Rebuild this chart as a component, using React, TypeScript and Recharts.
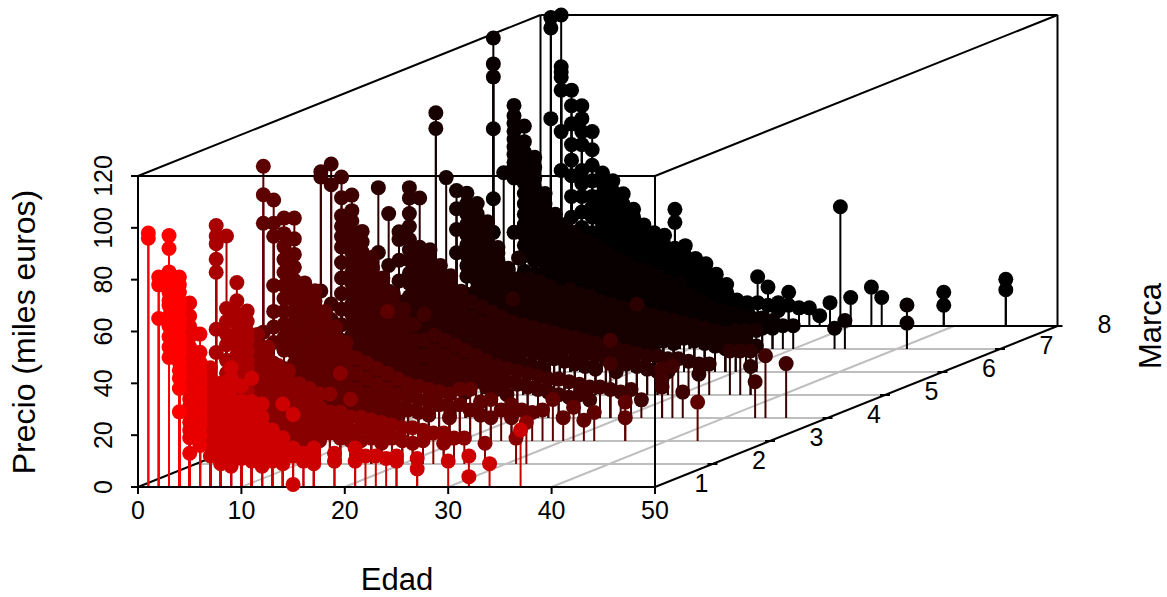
import { ScatterChart, Scatter, XAxis, YAxis, ReferenceLine, ErrorBar } from "recharts";

type Row = [number, number[]][];

// each row: [edad, precios...], one list per marca
const marca0: Row = [
  [1, [98, 96]],
  [2, [81, 78, 65]],
  [3, [97, 92, 83, 78, 75, 72, 70, 66, 62, 58, 54, 50]],
  [4, [81, 78, 75, 72, 69, 65, 62, 58, 55, 52, 48, 45, 42, 38, 29]],
  [5, [71, 66, 62, 58, 54, 50, 46, 43, 40, 37, 34, 31, 28, 25, 22, 19, 13]],
  [6, [59, 52, 48, 45, 42, 40, 37, 34, 31, 28, 26, 24, 20, 16]],
  [7, [46, 42, 38, 35, 32, 29, 26, 23, 20, 16, 12]],
  [8, [40, 36, 33, 30, 27, 24, 21, 18, 15, 12, 9]],
  [9, [46, 42, 38, 34, 30, 27, 24, 21, 18, 15, 12, 8]],
  [10, [39, 33, 29, 26, 23, 20, 17, 14, 11]],
  [11, [42, 33, 28, 25, 22, 19, 16, 13, 10]],
  [12, [32, 27, 24, 21, 18, 15, 12, 8]],
  [13, [22, 19, 16, 13, 10]],
  [14, [32, 19, 15, 12, 9]],
  [15, [28, 15, 12, 1]],
  [16, [13, 10]],
  [17, [15, 12, 9]],
  [19, [13, 10]],
  [21, [15, 10]],
  [22, [12]],
  [23, [12]],
  [24, [11]],
  [25, [12, 10]],
  [27, [11, 7]],
  [30, [10]],
  [32, [12, 4]],
  [34, [9]],
  [37, [22]],
];

const marca1: Row = [
  [2, [92, 88, 85, 79, 74, 52, 43]],
  [3, [88, 60, 55, 50, 46, 40, 35, 30, 25, 20]],
  [4, [70, 63, 58, 54, 50, 46, 42, 38, 34, 30, 26, 22, 18, 14]],
  [5, [59, 55, 51, 48, 44, 40, 37, 34, 31, 28, 24, 20, 16, 12]],
  [6, [50, 46, 42, 39, 36, 33, 30, 27, 24, 21, 18, 14, 10]],
  [7, [45, 41, 37, 34, 31, 28, 25, 22, 19, 16, 13, 9]],
  [8, [38, 35, 32, 29, 26, 23, 20, 17, 14, 11, 8]],
  [9, [36, 32, 29, 26, 23, 20, 17, 14, 10, 7]],
  [10, [31, 26, 22, 18, 14, 9]],
  [11, [29, 24, 20, 16, 12, 8]],
  [12, [27, 22, 18, 14, 9]],
  [13, [27, 20, 16, 12]],
  [14, [35, 20, 15, 10]],
  [15, [25, 18, 13, 9]],
  [16, [18, 14, 9]],
  [17, [17, 13, 10]],
  [18, [16, 12, 8]],
  [19, [15, 10]],
  [20, [14, 9]],
  [21, [14, 8]],
  [22, [13, 9]],
  [23, [12]],
  [24, [12, 8]],
  [25, [10]],
  [26, [10]],
  [28, [8]],
  [31, [10]],
  [32, [16]],
];

const marca2: Row = [
  [1, [106, 95, 84, 42, 36, 30, 20, 12]],
  [2, [93, 84, 79, 60, 50, 44, 38, 30, 24, 16, 10]],
  [3, [86, 80, 75, 70, 65, 60, 55, 50, 45, 40, 35, 28, 22, 15, 9]],
  [4, [86, 78, 72, 67, 62, 58, 54, 50, 46, 42, 38, 34, 30, 26, 22, 17, 12, 7]],
  [5, [61, 57, 54, 50, 47, 44, 41, 38, 35, 32, 29, 26, 22, 18, 13, 8]],
  [6, [58, 54, 50, 47, 44, 41, 38, 35, 32, 29, 26, 23, 20, 16, 11, 7]],
  [7, [50, 46, 43, 40, 37, 34, 31, 28, 25, 22, 19, 15, 10, 6]],
  [8, [44, 40, 36, 32, 28, 25, 22, 19, 16, 12, 8]],
  [9, [38, 34, 30, 27, 24, 21, 18, 14, 9]],
  [10, [32, 26, 20, 15, 10]],
  [11, [30, 24, 18, 13, 8]],
  [12, [28, 22, 17, 12]],
  [13, [50, 26, 20, 15, 10]],
  [14, [24, 18, 13, 9]],
  [15, [22, 17, 12]],
  [16, [21, 16, 11]],
  [17, [20, 15, 10]],
  [18, [19, 14]],
  [19, [18, 13, 9]],
  [20, [20, 14]],
  [21, [20, 12]],
  [22, [15, 10]],
  [23, [16, 9]],
  [24, [12]],
  [25, [14, 9]],
  [26, [12]],
  [27, [11]],
  [28, [12]],
  [29, [16]],
  [30, [9]],
  [31, [13]],
  [32, [8]],
  [33, [11]],
  [36, [15, 9]],
  [43, [15]],
];

const marca3: Row = [
  [1, [95, 93, 49, 36, 25, 14]],
  [2, [98, 90, 44, 38, 30, 24, 16]],
  [3, [93, 85, 78, 74, 70, 66, 60, 54, 48, 42, 36, 30, 24, 18, 12]],
  [4, [86, 80, 76, 72, 68, 64, 60, 56, 52, 48, 44, 40, 36, 32, 28, 23, 18, 13, 8]],
  [5, [72, 68, 64, 60, 57, 54, 51, 48, 45, 42, 39, 36, 33, 30, 26, 22, 17, 12]],
  [6, [62, 58, 55, 52, 49, 46, 43, 40, 37, 34, 31, 28, 25, 22, 18, 13, 8]],
  [7, [54, 50, 46, 42, 38, 34, 31, 28, 25, 22, 18, 14, 9]],
  [8, [48, 44, 40, 36, 32, 29, 26, 23, 20, 17, 12, 8]],
  [9, [42, 38, 34, 30, 27, 24, 21, 18, 15, 11]],
  [10, [36, 30, 25, 20, 15, 10]],
  [11, [40, 30, 24, 18, 13]],
  [12, [32, 26, 21, 16, 11]],
  [13, [30, 24, 19, 14]],
  [14, [28, 22, 17, 12]],
  [15, [26, 20, 15, 10]],
  [16, [24, 19, 14]],
  [17, [22, 17, 12]],
  [18, [20, 15, 11]],
  [19, [19, 14, 9]],
  [20, [18, 13]],
  [21, [17, 12]],
  [22, [16, 11]],
  [23, [15, 10]],
  [24, [15, 9]],
  [25, [14, 8]],
  [26, [13, 9]],
  [27, [12, 7]],
  [28, [12]],
  [29, [30, 21, 11]],
  [30, [10]],
  [31, [11]],
  [32, [7]],
  [34, [19, 15, 12]],
  [35, [20]],
  [36, [10]],
  [43, [14]],
  [44, [24]],
  [46, [21]],
];

const marca4: Row = [
  [1, [80, 55, 42, 30, 18]],
  [2, [70, 50, 40, 24, 14]],
  [3, [63, 60, 52, 44, 36, 28, 20, 12]],
  [4, [80, 76, 70, 65, 60, 56, 52, 47, 43, 38, 34, 30, 25, 19, 13, 8]],
  [5, [76, 57, 54, 50, 47, 44, 41, 38, 35, 32, 29, 26, 22, 17, 12, 7]],
  [6, [56, 52, 49, 46, 43, 40, 37, 34, 31, 28, 25, 22, 17, 12, 7]],
  [7, [50, 46, 42, 38, 35, 32, 29, 26, 23, 20, 15, 10]],
  [8, [46, 42, 38, 34, 31, 28, 25, 22, 19, 14, 9]],
  [9, [40, 36, 32, 28, 25, 22, 18, 13, 8]],
  [10, [36, 30, 25, 20, 14, 9]],
  [11, [34, 28, 23, 18, 12]],
  [12, [32, 27, 22, 17, 11]],
  [13, [30, 25, 20, 15, 10]],
  [14, [37, 28, 23, 18, 13]],
  [15, [27, 22, 17, 12]],
  [16, [26, 21, 16, 11]],
  [17, [25, 20, 15, 10]],
  [18, [24, 19, 14]],
  [19, [23, 18, 13]],
  [20, [22, 17, 12]],
  [21, [21, 16, 11]],
  [22, [20, 15, 10]],
  [23, [19, 14]],
  [24, [18, 13, 9]],
  [25, [17, 12]],
  [26, [35, 16, 11]],
  [27, [15, 10]],
  [28, [15, 9]],
  [29, [14, 9]],
  [30, [14]],
  [31, [13]],
  [32, [12, 8]],
  [33, [12]],
  [35, [17]],
  [36, [17]],
  [37, [17, 11]],
];

const marca5: Row = [
  [1, [100, 94, 38]],
  [2, [75, 20]],
  [3, [70, 63, 55, 46, 14]],
  [4, [69, 65, 61, 57, 53, 49, 45, 41, 37, 30, 25, 20, 15, 10]],
  [5, [65, 61, 57, 53, 50, 47, 44, 41, 38, 35, 32, 28, 24, 20, 16, 12, 8]],
  [6, [58, 55, 52, 49, 46, 43, 40, 37, 34, 31, 28, 25, 21, 17, 13, 9]],
  [7, [48, 46, 43, 40, 37, 34, 31, 28, 25, 22, 18, 14, 10, 6]],
  [8, [40, 39, 36, 33, 30, 27, 24, 21, 17, 13, 9]],
  [9, [44, 36, 32, 29, 26, 23, 20, 16, 12, 8]],
  [10, [36, 32, 29, 26, 23, 20, 17, 13, 9]],
  [11, [35, 32, 29, 26, 23, 20, 17, 13, 8]],
  [12, [33, 30, 27, 24, 21, 18, 15, 11, 7]],
  [13, [31, 28, 25, 22, 19, 16, 12, 8]],
  [14, [32, 29, 26, 23, 20, 17, 14, 10]],
  [15, [30, 27, 24, 21, 18, 15, 11, 7]],
  [16, [29, 26, 23, 20, 17, 14, 10]],
  [17, [27, 24, 21, 18, 15, 12, 8]],
  [18, [26, 23, 20, 17, 14, 10]],
  [19, [25, 22, 19, 16, 13, 9]],
  [20, [24, 21, 18, 15, 12, 8]],
  [21, [23, 20, 17, 14, 10]],
  [22, [22, 19, 16, 13, 9]],
  [23, [21, 18, 15, 12]],
  [24, [20, 17, 14, 11]],
  [25, [19, 16, 13]],
  [26, [18, 15, 12]],
  [27, [17, 14, 11]],
  [28, [16, 13, 10]],
  [29, [15, 12, 9]],
  [30, [16, 12]],
  [31, [16, 12]],
  [32, [16, 10]],
];

const marca6: Row = [
  [1, [120, 110, 105, 85, 58, 45, 25, 12]],
  [2, [68, 30, 22, 16, 10, 5]],
  [3, [94, 90, 87, 84, 81, 78, 75, 72, 70, 66, 45, 26, 18, 11, 5]],
  [4, [86, 80, 76, 72, 68, 64, 60, 56, 52, 48, 44, 40, 36, 30, 24, 18, 12, 6]],
  [5, [74, 70, 66, 62, 58, 54, 50, 46, 43, 40, 37, 34, 29, 24, 19, 14, 8]],
  [6, [60, 56, 52, 48, 45, 42, 39, 36, 33, 30, 27, 23, 18, 13, 8, 4]],
  [7, [52, 49, 46, 43, 40, 37, 34, 31, 28, 25, 21, 17, 12, 7]],
  [8, [48, 45, 42, 39, 36, 33, 30, 27, 24, 20, 16, 11, 6]],
  [9, [45, 42, 39, 36, 33, 30, 27, 24, 21, 17, 12, 7]],
  [10, [42, 39, 36, 33, 30, 27, 24, 21, 18, 14, 9, 5]],
  [11, [40, 37, 34, 31, 28, 25, 22, 19, 15, 10, 6]],
  [12, [37, 34, 31, 28, 25, 22, 19, 16, 12, 8]],
  [13, [35, 32, 29, 26, 23, 20, 17, 13, 9, 5]],
  [14, [33, 30, 27, 24, 21, 18, 15, 11, 7]],
  [15, [31, 28, 25, 22, 19, 16, 13, 9, 5]],
  [16, [30, 27, 24, 21, 18, 15, 11, 7]],
  [17, [28, 25, 22, 19, 16, 13, 9]],
  [18, [26, 23, 20, 17, 14, 10, 6]],
  [19, [25, 22, 19, 16, 13, 9]],
  [20, [21, 17, 14, 11, 7]],
  [21, [19, 15, 12, 8]],
  [22, [16, 13, 9]],
  [23, [15, 11, 7]],
  [24, [14, 10, 6]],
  [25, [13, 9]],
  [26, [12, 8]],
  [27, [12, 8]],
  [28, [11, 8]],
  [29, [9]],
  [30, [9]],
  [34, [8]],
  [35, [11]],
  [41, [17, 10]],
];

const marca7: Row = [
  [1, [119, 115, 80]],
  [2, [120, 100, 98, 96, 91, 75, 60]],
  [3, [91, 85, 78, 70, 64, 58, 50, 42, 36, 30, 24, 18, 12, 6]],
  [4, [85, 80, 75, 70, 60, 55, 50, 44, 38, 32, 27, 22, 16, 10]],
  [5, [75, 68, 62, 56, 50, 46, 42, 36, 31, 26, 21, 15, 9, 4]],
  [6, [59, 55, 51, 47, 43, 39, 35, 31, 27, 22, 17, 12, 6]],
  [7, [56, 52, 48, 44, 40, 36, 32, 28, 24, 19, 14, 8]],
  [8, [51, 47, 43, 39, 35, 31, 27, 23, 18, 13, 7]],
  [9, [45, 42, 38, 34, 30, 26, 22, 18, 13, 8]],
  [10, [39, 36, 33, 30, 26, 22, 18, 14, 9]],
  [11, [36, 33, 30, 26, 23, 19, 15, 10, 5]],
  [12, [35, 31, 28, 25, 22, 18, 14, 10, 6]],
  [13, [45, 40, 30, 26, 23, 20, 16, 11, 6]],
  [14, [31, 27, 24, 21, 18, 14, 10]],
  [15, [26, 23, 20, 17, 13, 9]],
  [16, [24, 21, 18, 15, 11]],
  [17, [20, 17, 13, 9]],
  [18, [16, 13, 9]],
  [19, [10, 7]],
  [20, [9, 6]],
  [21, [19, 9]],
  [22, [15, 8]],
  [23, [9, 6]],
  [24, [13, 8]],
  [25, [7]],
  [26, [7]],
  [27, [4]],
  [28, [9]],
  [29, [46]],
  [30, [11]],
  [32, [15]],
  [33, [11]],
  [39, [13, 8]],
  [45, [18, 14]],
];

const edadTicks = [0, 10, 20, 30, 40, 50];
const precioTicks = [0, 20, 40, 60, 80, 100, 120];
const marcaTicks = [1, 2, 3, 4, 5, 6, 7];

// plot scale: 10.34 px per year, 2.5917 px per thousand euros, one marca shifts 57.5px right and 23px up
const xMax = 1029 / 10.34;
const yMax = 487 / 2.5917;
const xShift = 57.5 / 10.34;
const yShift = 23 / 2.5917;
const px = (edad: number, marca: number) => edad + marca * xShift;
const py = (precio: number, marca: number) => precio + marca * yShift;

const font = "'Liberation Sans', Arial, sans-serif";

const build = (rows: Row, marca: number, from = 0, to = 99) =>
  rows
    .filter(([edad]) => edad >= from && edad <= to)
    .flatMap(([edad, precios]) =>
      precios.map((precio) => ({
        px: px(edad, marca),
        py: py(precio, marca),
        stem: [precio, 0],
      })),
    );

// back to front, like the original drawing order
const groups = [
  { color: "#000000", data: build(marca7, 7) },
  { color: "#080000", data: build(marca6, 6) },
  { color: "#160000", data: build(marca5, 5) },
  { color: "#2a0000", data: build(marca4, 4) },
  { color: "#3e0000", data: build(marca3, 3) },
  { color: "#5e0000", data: build(marca2, 2) },
  { color: "#880000", data: build(marca1, 1, 6) },
  { color: "#a80000", data: build(marca1, 1, 0, 5) },
  { color: "#cc0000", data: build(marca0, 0, 7) },
  { color: "#e80000", data: build(marca0, 0, 5, 6) },
  { color: "#ff0000", data: build(marca0, 0, 0, 4) },
];

const seg = (e1: number, p1: number, m1: number, e2: number, p2: number, m2: number) =>
  [
    { x: px(e1, m1), y: py(p1, m1) },
    { x: px(e2, m2), y: py(p2, m2) },
  ] as any;

const Dot = (color: string) => (props: any) => (
  <circle cx={props.cx} cy={props.cy} r={7.5} fill={color} />
);

const MarcaTick = (props: any) => (
  <g>
    {props.payload.tick && (
      <line x1={props.cx - 5} x2={props.cx + 5} y1={props.cy} y2={props.cy} stroke="#000" strokeWidth={2} />
    )}
    <text
      x={props.cx - 11}
      y={props.cy + 21}
      textAnchor="middle"
      dominantBaseline="middle"
      fontSize={25}
      fontFamily={font}
    >
      {props.payload.label}
    </text>
  </g>
);

const EdadTick = (props: any) => (
  <text x={props.x} y={519} textAnchor="middle" fontSize={25} fontFamily={font}>
    {props.payload.value}
  </text>
);

const PrecioTick = (props: any) => (
  <text
    transform={`rotate(-90 112 ${props.y})`}
    x={112}
    y={props.y}
    textAnchor="middle"
    fontSize={25}
    fontFamily={font}
  >
    {props.payload.value}
  </text>
);

const marcaData = [
  ...marcaTicks.map((m) => ({ px: px(50, m), py: py(0, m), label: m, tick: true })),
  { px: px(50, 7) + 58 / 10.34, py: py(0, 7) + 21 / 2.5917, label: 8, tick: false },
];

export default function App() {
  return (
    <div style={{ position: "absolute", left: 0, top: 0 }}>
      <ScatterChart width={1167} height={597} margin={{ top: 0, right: 0, bottom: 0, left: 0 }}>
        <XAxis
          type="number"
          dataKey="px"
          domain={[0, xMax]}
          ticks={edadTicks}
          height={110}
          axisLine={false}
          tickLine={{ stroke: "#000", strokeWidth: 2 }}
          tickSize={7}
          tick={<EdadTick />}
          interval={0}
        />
        <YAxis
          type="number"
          dataKey="py"
          domain={[0, yMax]}
          ticks={precioTicks}
          width={138}
          axisLine={false}
          tickLine={{ stroke: "#000", strokeWidth: 2 }}
          tickSize={7}
          tick={<PrecioTick />}
          interval={0}
        />

        {marcaTicks.slice(0, 6).map((m) => (
          <ReferenceLine key={`r${m}`} segment={seg(0, 0, m, 50, 0, m)} stroke="#bebebe" strokeWidth={2} />
        ))}
        {edadTicks.slice(1, 5).map((e) => (
          <ReferenceLine key={`d${e}`} segment={seg(e, 0, 0, e, 0, 7)} stroke="#bebebe" strokeWidth={2} />
        ))}

        <ReferenceLine segment={seg(0, 0, 7, 50, 0, 7)} stroke="#000" strokeWidth={2} />
        <ReferenceLine segment={seg(0, 120, 7, 50, 120, 7)} stroke="#000" strokeWidth={2} />
        <ReferenceLine segment={seg(0, 0, 7, 0, 120, 7)} stroke="#000" strokeWidth={2} />
        <ReferenceLine segment={seg(50, 0, 7, 50, 120, 7)} stroke="#000" strokeWidth={2} />
        <ReferenceLine segment={seg(0, 0, 0, 0, 0, 7)} stroke="#000" strokeWidth={2} />
        <ReferenceLine segment={seg(0, 120, 0, 0, 120, 7)} stroke="#000" strokeWidth={2} />
        <ReferenceLine segment={seg(50, 120, 0, 50, 120, 7)} stroke="#000" strokeWidth={2} />

        {groups.map((g) => (
          <Scatter key={g.color} data={g.data} shape={Dot(g.color)} isAnimationActive={false}>
            <ErrorBar
              dataKey="stem"
              direction="y"
              width={0}
              stroke={g.color}
              strokeWidth={2}
              isAnimationActive={false}
            />
          </Scatter>
        ))}

        <ReferenceLine segment={seg(0, 0, 0, 50, 0, 0)} stroke="#000" strokeWidth={2} />
        <ReferenceLine segment={seg(0, 120, 0, 50, 120, 0)} stroke="#000" strokeWidth={2} />
        <ReferenceLine segment={seg(0, 0, 0, 0, 120, 0)} stroke="#000" strokeWidth={2} />
        <ReferenceLine segment={seg(50, 0, 0, 50, 120, 0)} stroke="#000" strokeWidth={2} />
        <ReferenceLine segment={seg(50, 0, 0, 50, 0, 7)} stroke="#000" strokeWidth={2} />

        <Scatter data={marcaData} shape={MarcaTick} isAnimationActive={false} />

        <text x={397} y={590} textAnchor="middle" fontSize={31} fontFamily={font}>
          Edad
        </text>
        <text transform="rotate(-90 35 332)" x={35} y={332} textAnchor="middle" fontSize={32} fontFamily={font}>
          Precio (miles euros)
        </text>
        <text transform="rotate(-90 1161 326)" x={1161} y={326} textAnchor="middle" fontSize={31} fontFamily={font}>
          Marca
        </text>
      </ScatterChart>
    </div>
  );
}
